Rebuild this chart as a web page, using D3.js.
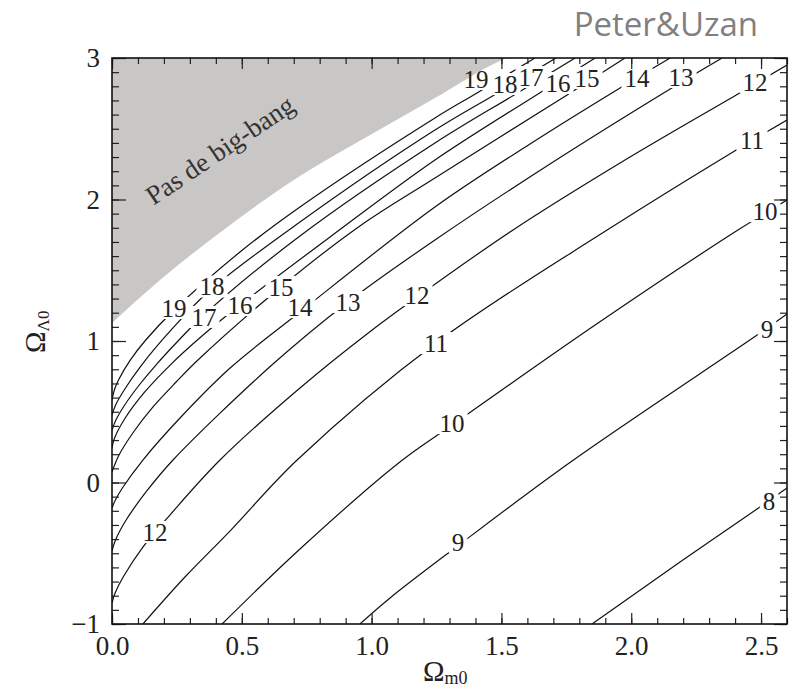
<!DOCTYPE html>
<html>
<head>
<meta charset="utf-8">
<script src="https://cdn.jsdelivr.net/npm/d3@7"></script>
<style>
  body { margin: 0; background: #fff; }
  #chart text { font-family: "Liberation Serif", "DejaVu Serif", serif; }
</style>
</head>
<body>
<div id="chart"></div>
<script>
const width = 791, height = 690;

// axes
const xDomain = [0, 2.6];
const yDomain = [-1, 3];
const xTickValues = [0, 0.5, 1, 1.5, 2, 2.5];
const xTickLabels = ["0.0", "0.5", "1.0", "1.5", "2.0", "2.5"];
const yTickValues = [-1, 0, 1, 2, 3];
const yTickLabels = ["\u22121", "0", "1", "2", "3"];

// age contours (Gyr), points as [Ωm0, ΩΛ0]
const levels = [8, 9, 10, 11, 12, 13, 14, 15, 16, 17, 18, 19];
const c8 = [[1.849, -1.0], [2.188, -0.562], [2.496, -0.173], [2.60, -0.039]];
const c9 = [[0.955, -1.0], [1.071, -0.816], [1.321, -0.463], [1.772, 0.152], [2.485, 1.042], [2.60, 1.191]];
const c10 = [[0.424, -1.0], [0.724, -0.47], [1.109, 0.145], [1.31, 0.406], [1.861, 1.113], [2.411, 1.784], [2.60, 1.996]];
const c11 = [[0.119, -1.0], [0.281, -0.668], [0.458, -0.336], [0.713, 0.159], [1.248, 0.986], [1.907, 1.784], [2.392, 2.336], [2.60, 2.562]];
const c12 = [[0, -0.852], [0.012, -0.781], [0.043, -0.668], [0.119, -0.456], [0.223, -0.230], [0.416, 0.159], [0.724, 0.668], [1.002, 1.078], [1.175, 1.311], [1.545, 1.785], [1.976, 2.279], [2.411, 2.746], [2.60, 2.951]];
const c13 = [[0, -0.484], [0.012, -0.413], [0.052, -0.272], [0.134, -0.060], [0.235, 0.159], [0.620, 0.837], [0.909, 1.276], [1.244, 1.714], [1.687, 2.251], [2.150, 2.781], [2.350, 3.0]];
const c14 = [[0, -0.180], [0.013, -0.124], [0.040, -0.039], [0.119, 0.159], [0.262, 0.456], [0.455, 0.809], [0.724, 1.205], [1.244, 1.947], [1.610, 2.392], [1.957, 2.788], [2.150, 3.0]];
const c15 = [[0, 0.074], [0.027, 0.194], [0.083, 0.357], [0.158, 0.534], [0.247, 0.710], [0.331, 0.866], [0.651, 1.382], [0.955, 1.813], [1.244, 2.152], [1.753, 2.739], [1.976, 3.0]];
const c16 = [[0, 0.244], [0.010, 0.315], [0.051, 0.456], [0.123, 0.633], [0.224, 0.830], [0.351, 1.042], [0.493, 1.254], [0.840, 1.735], [1.244, 2.279], [1.641, 2.746], [1.861, 3.0]];
const c17 = [[0, 0.371], [0.015, 0.442], [0.049, 0.548], [0.105, 0.689], [0.169, 0.830], [0.258, 1.007], [0.354, 1.184], [0.724, 1.742], [1.244, 2.399], [1.549, 2.739], [1.784, 3.0]];
const c18 = [[0, 0.477], [0.014, 0.548], [0.047, 0.654], [0.114, 0.830], [0.228, 1.078], [0.378, 1.360], [0.724, 1.841], [1.244, 2.491], [1.479, 2.746], [1.710, 3.0]];
const c19 = [[0, 0.583], [0.009, 0.654], [0.025, 0.724], [0.071, 0.866], [0.130, 1.007], [0.239, 1.219], [0.493, 1.629], [0.724, 1.947], [1.244, 2.576], [1.406, 2.753], [1.629, 3.0]];
const contourLines = [c8, c9, c10, c11, c12, c13, c14, c15, c16, c17, c18, c19];

// edge of the "no big bang" region
const noBigBang = [[0, 1.127], [0.185, 1.431], [0.378, 1.714], [0.724, 2.166], [0.994, 2.456], [1.244, 2.717], [1.502, 2.986], [1.52, 3.0]];

// contour labels: value and where it sits
const labelValues = [19, 18, 17, 16, 15, 14, 13, 12, 11, 10, 9, 8,
                     19, 18, 17, 16, 15, 14, 13, 12, 11, 10, 9, 12];
const labelPoints = [[1.402, 2.852], [1.514, 2.816], [1.614, 2.866], [1.718, 2.823], [1.830, 2.859], [2.022, 2.859], [2.192, 2.866], [2.477, 2.830],
                     [2.465, 2.420], [2.515, 1.919], [2.523, 1.085], [2.531, -0.131],
                     [0.239, 1.233], [0.385, 1.385], [0.354, 1.170], [0.493, 1.254], [0.651, 1.382], [0.724, 1.240], [0.909, 1.276], [1.175, 1.325],
                     [1.248, 0.986], [1.310, 0.420], [1.333, -0.420], [0.166, -0.350]];

const serif = "'Liberation Serif', 'DejaVu Serif', serif";

const svg = d3.select("#chart")
    .append("svg")
    .attr("width", width)
    .attr("height", height);

const x = d3.scaleLinear().domain(xDomain).range([112, 787]);
const y = d3.scaleLinear().domain(yDomain).range([624, 58]);

const defs = svg.append("defs");
defs.append("clipPath").attr("id", "plot-clip")
    .append("rect")
    .attr("x", x(0)).attr("y", y(3))
    .attr("width", x(2.6) - x(0)).attr("height", y(-1) - y(3));

// mask that cuts the lines where the labels sit
const labelWidth = v => String(v).length * 12.5 + 6;
const mask = defs.append("mask").attr("id", "label-mask")
    .attr("maskUnits", "userSpaceOnUse")
    .attr("x", 0).attr("y", 0).attr("width", width).attr("height", height);
mask.append("rect").attr("width", width).attr("height", height).attr("fill", "white");
mask.selectAll("rect.hole")
    .data(labelPoints)
    .join("rect")
    .attr("class", "hole")
    .attr("x", (d, i) => x(d[0]) - labelWidth(labelValues[i]) / 2)
    .attr("y", d => y(d[1]) - 11)
    .attr("width", (d, i) => labelWidth(labelValues[i]))
    .attr("height", 22)
    .attr("fill", "black");

// grey region
svg.append("path")
    .datum(noBigBang)
    .attr("clip-path", "url(#plot-clip)")
    .attr("fill", "#c9c7c5")
    .attr("d", d3.area()
        .x(d => x(d[0]))
        .y0(d => y(d[1]))
        .y1(y(3))
        .curve(d3.curveMonotoneX));

svg.append("text")
    .attr("transform", `translate(${x(0.16)},${y(1.955)}) rotate(-34)`)
    .style("font-family", serif)
    .attr("font-size", 27)
    .attr("fill", "#333")
    .text("Pas de big-bang");

// contours
const line = d3.line()
    .x(d => x(d[0]))
    .y(d => y(d[1]))
    .curve(d3.curveCatmullRom.alpha(0.5));

svg.append("g")
    .attr("clip-path", "url(#plot-clip)")
    .append("g")
    .attr("mask", "url(#label-mask)")
    .selectAll("path")
    .data(contourLines)
    .join("path")
    .attr("fill", "none")
    .attr("stroke", "#111")
    .attr("stroke-width", 1.2)
    .attr("d", line);

svg.append("g")
    .selectAll("text")
    .data(labelPoints)
    .join("text")
    .attr("x", d => x(d[0]))
    .attr("y", d => y(d[1]))
    .attr("dy", "0.35em")
    .attr("text-anchor", "middle")
    .style("font-family", serif)
    .attr("font-size", 25)
    .attr("fill", "#222")
    .text((d, i) => labelValues[i]);

// axes, ticks inward on all four sides
const minorX = x.ticks(26);
const minorY = y.ticks(40);

function styleAxis(g) {
    g.select(".domain").remove();
    g.selectAll("line").attr("stroke", "#222").attr("stroke-width", 1.2);
    g.attr("font-family", null).attr("font-size", 27).attr("color", "#222");
    g.selectAll("text").style("font-family", serif);
}

svg.append("g").attr("transform", `translate(0,${y(-1)})`)
    .call(d3.axisBottom(x).tickValues(minorX).tickSize(-6).tickFormat(""))
    .call(styleAxis);
svg.append("g").attr("transform", `translate(0,${y(-1)})`)
    .call(d3.axisBottom(x).tickValues(xTickValues).tickSize(-11).tickPadding(12)
        .tickFormat((d, i) => xTickLabels[i]))
    .call(styleAxis);
svg.append("g").attr("transform", `translate(0,${y(3)})`)
    .call(d3.axisTop(x).tickValues(minorX).tickSize(-6).tickFormat(""))
    .call(styleAxis);
svg.append("g").attr("transform", `translate(0,${y(3)})`)
    .call(d3.axisTop(x).tickValues(xTickValues).tickSize(-11).tickFormat(""))
    .call(styleAxis);

svg.append("g").attr("transform", `translate(${x(0)},0)`)
    .call(d3.axisLeft(y).tickValues(minorY).tickSize(-7).tickFormat(""))
    .call(styleAxis);
svg.append("g").attr("transform", `translate(${x(0)},0)`)
    .call(d3.axisLeft(y).tickValues(yTickValues).tickSize(-14).tickPadding(12)
        .tickFormat((d, i) => yTickLabels[i]))
    .call(styleAxis);
svg.append("g").attr("transform", `translate(${x(2.6)},0)`)
    .call(d3.axisRight(y).tickValues(minorY).tickSize(-7).tickFormat(""))
    .call(styleAxis);
svg.append("g").attr("transform", `translate(${x(2.6)},0)`)
    .call(d3.axisRight(y).tickValues(yTickValues).tickSize(-13).tickFormat(""))
    .call(styleAxis);

svg.append("rect")
    .attr("x", x(0)).attr("y", y(3))
    .attr("width", x(2.6) - x(0)).attr("height", y(-1) - y(3))
    .attr("fill", "none")
    .attr("stroke", "#111")
    .attr("stroke-width", 1.6);

// axis titles
const xt = svg.append("text")
    .attr("x", 423).attr("y", 681)
    .style("font-family", serif)
    .attr("fill", "#222");
xt.append("tspan").attr("font-size", 29).text("\u03A9");
xt.append("tspan").attr("font-size", 18).attr("dy", 3).text("m0");

const yt = svg.append("text")
    .attr("transform", "translate(45,353) rotate(-90)")
    .style("font-family", serif)
    .attr("fill", "#222");
yt.append("tspan").attr("font-size", 29).text("\u03A9");
yt.append("tspan").attr("font-size", 17).attr("dy", 4).text("\u039B0");

svg.append("text")
    .attr("x", 758).attr("y", 36)
    .attr("text-anchor", "end")
    .style("font-family", "'Open Sans', 'Noto Sans', sans-serif")
    .attr("font-size", 33)
    .attr("fill", "#808080")
    .text("Peter&Uzan");
</script>
</body>
</html>
